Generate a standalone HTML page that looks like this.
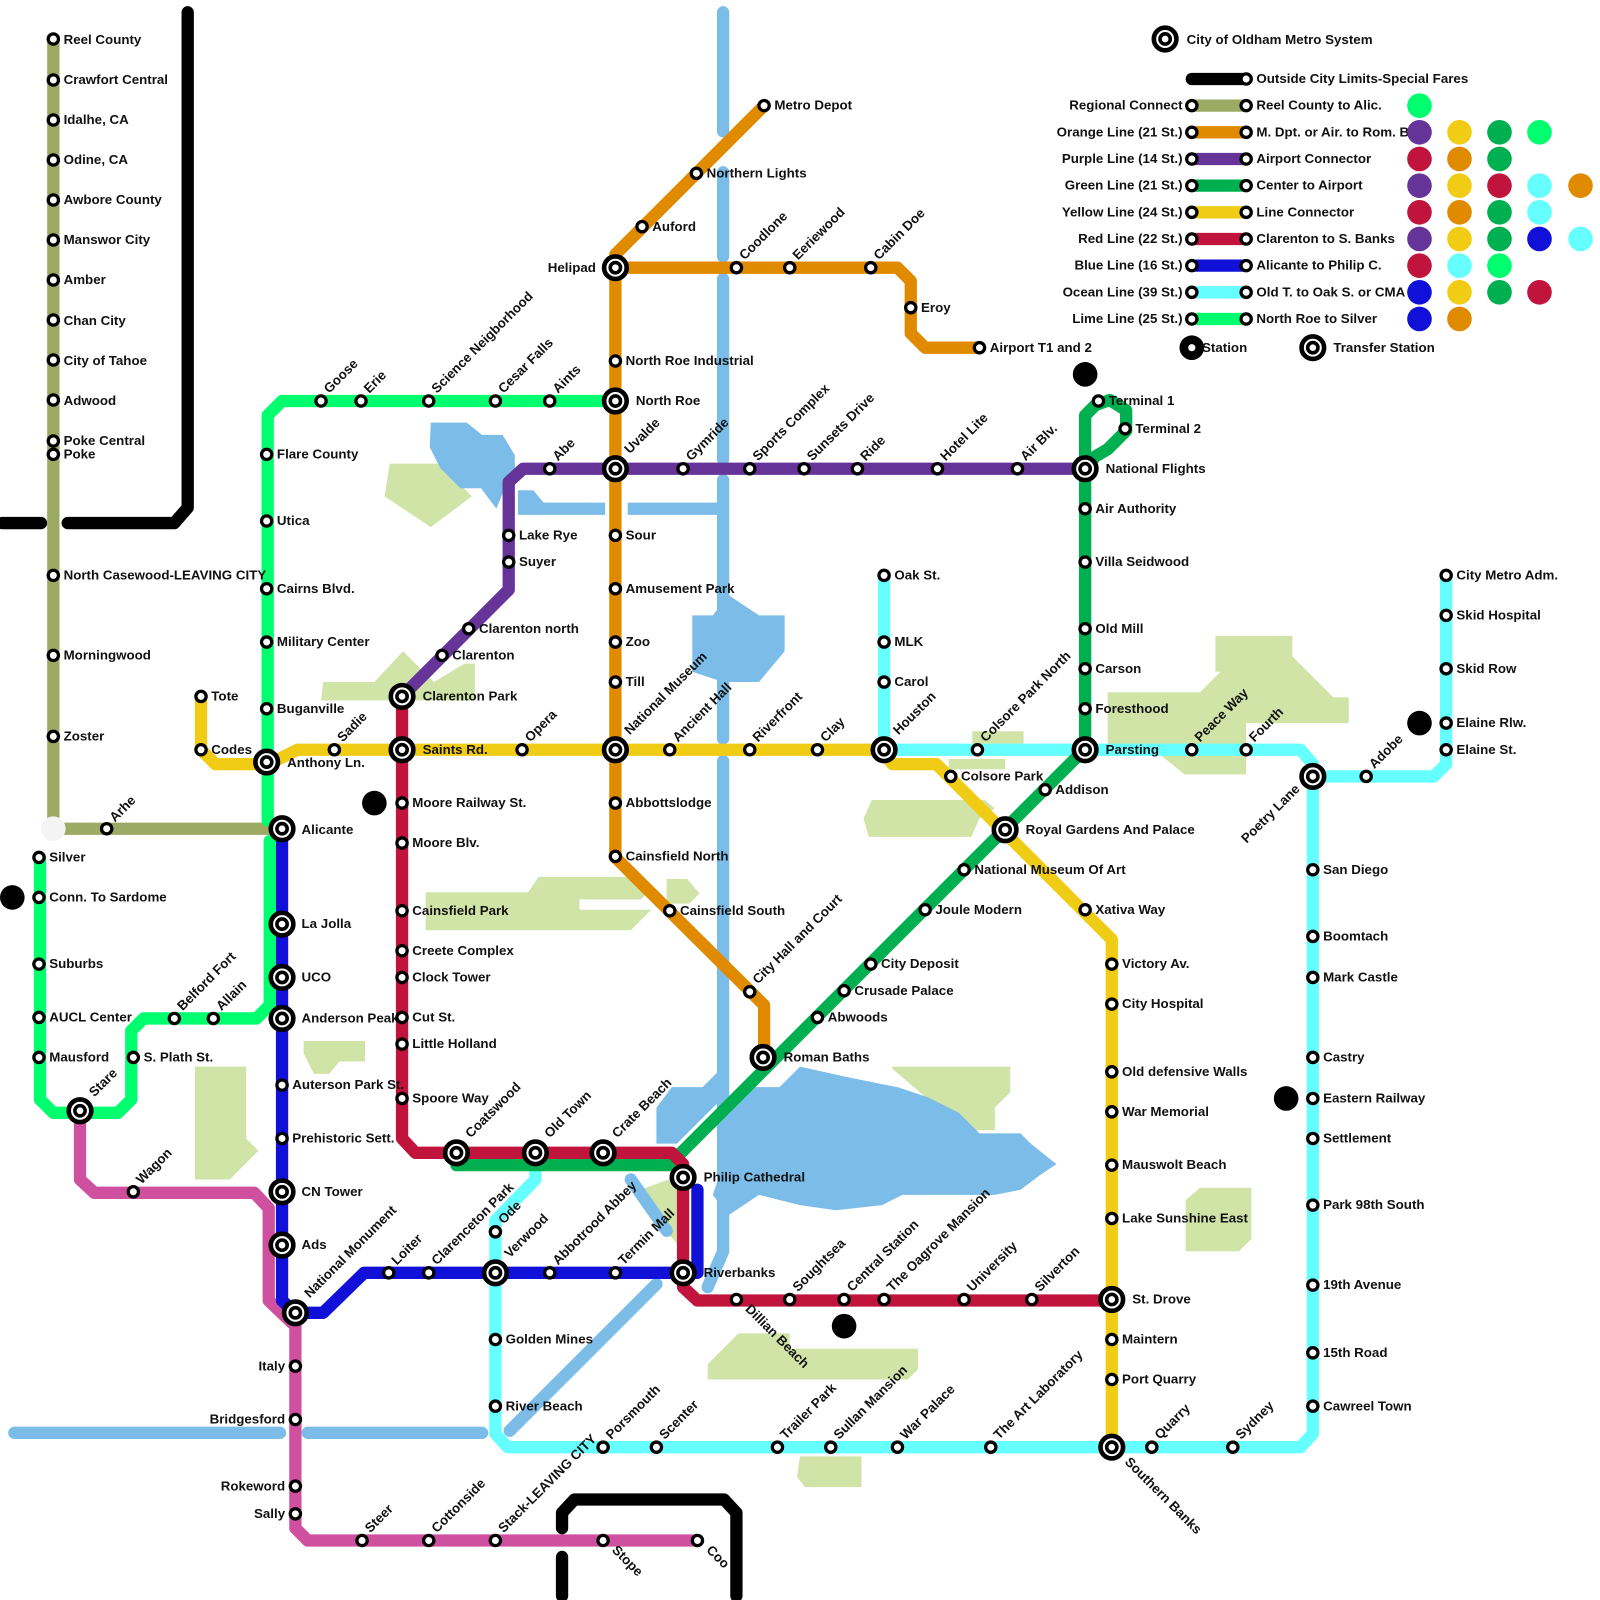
<!DOCTYPE html>
<html><head><meta charset="utf-8"><style>
html,body{margin:0;padding:0;background:#fff}
svg{display:block}
text{font-family:"Liberation Sans",Arial,sans-serif;font-weight:bold;font-size:13px;fill:#111}
.l{fill:none;stroke-width:12;stroke-linejoin:round;stroke-linecap:round}
.w{fill:none;stroke:#7bbde8;stroke-width:12;stroke-linecap:round;stroke-linejoin:round}
.s{fill:#fff;stroke:#000;stroke-width:3.2}
</style></head><body>
<svg width="1600" height="1600" viewBox="0 0 1560 1560" xmlns="http://www.w3.org/2000/svg">
<defs>
<g id="t"><circle r="11" fill="#fff" stroke="#000" stroke-width="4.5"/><circle r="5" fill="#fff" stroke="#000" stroke-width="3.5"/></g>
</defs>
<!-- parks -->
<g fill="#d0e4a8">
<path d="M380 452h50l30 32-40 30-45-30z"/>
<path d="M315 665l50 0 28-30 30 30 30-18h10v36h-150z"/>
<path d="M415 870h100l10-15h100l10 12-10 10h-60v10h70l-20 20h-200z"/>
<path d="M650 857h20l12 14-10 10h-22z"/>
<path d="M296 1015h60v20h-25l-10 12h-15l-10-20z"/>
<path d="M190 1040h50v70l12 12-28 28h-34z"/>
<path d="M850 780h110l10 8-15 10-8 18h-100l-5-18z"/>
<path d="M948 713h50v12h-50zM925 740h55v10h-55z"/>
<path d="M1080 675h90l20-20h-5v-35h75v20l40 40 15 0v25h-100v50h-60l-25-20-50 0z"/>
<path d="M870 1040h115v25l-15 15v22h-65v-30l-35-30z"/>
<path d="M1170 1158h50v50l-12 12h-52v-50z"/>
<path d="M690 1330l30-30h50v15h125v20l-10 10h-195z"/>
<path d="M780 1420h60v30h-55l-8-10z"/>
<path d="M624 1160l28-10 16 20v50l-30-30z"/>
</g>
<!-- water -->
<g fill="#7bbde8">
<path d="M420 412h35l15 12h20l12 20v20l-10 12-8 20-15-20h-20l-20-20-10-20z"/>
<path d="M505 478h15l10 12h60v12h-85z"/>
<path d="M612 490h90v12h-90z"/>
<path d="M675 600h20l15-20 30 20h25v35l-25 30h-35l-30-10z"/>
<path d="M720 1060h40l20-20 45 10 50 10 30 10 30 15 20 20 40 0 10 10 25 20-15 10-20 15-25 5-90 0-20 10-45 5-35-5-40-10-30 20-15-20 10-30 0-60z"/>
<path d="M640 1080l15-20h30l15-15 0 30-40 40-20 0z"/>
</g>
<g>
<path class="w" d="M705 12V128M705 168V250M705 272V448M705 468V720M705 742V1080M705 1090V1220L690 1255M14 1397H273M300 1397H470M640 1252L497 1395M615 1150L650 1200"/>
</g>
<!-- black -->
<path class="l" stroke="#000" d="M183 12V495L170 510H66M2 510H40M548 1490V1475L560 1462H706L718 1475V1556M548 1518V1556"/>
<!-- regional -->
<path class="l" stroke="#9caa64" d="M52 38V808H265"/>
<circle cx="52" cy="808" r="12" fill="#f4f4f4"/>
<!-- lime -->
<path class="l" stroke="#00ff6e" d="M600 391H275L261 405V800M263 820V980L250 993H140L128 1005V1072L115 1085H52L39 1072V836"/>
<!-- pink -->
<path class="l" stroke="#d050a0" d="M78 1083V1150L92 1163H248L262 1178V1268L288 1293V1490L300 1502H680"/>
<!-- ocean -->
<path class="l" stroke="#66ffff" d="M862 561V731H1268L1280 745V1398L1268 1411H495L483 1398V1190L522 1150V1124M1280 757H1398L1410 745V561"/>
<!-- orange -->
<path class="l" stroke="#e08a00" d="M745 103L600 248V836L745 980V1031M600 261H875L888 274V325L902 339H955"/>
<!-- purple -->
<path class="l" stroke="#663399" d="M392 679L496 575V470L510 457H1058"/>
<!-- green -->
<path class="l" stroke="#00b050" d="M1058 457V730L666 1122L652 1136H445M1058 457L1068 445L1080 438L1098 420L1098 400L1082 390L1068 395L1058 405Z"/>
<circle cx="1078" cy="412" r="9" fill="#fff"/>
<!-- yellow -->
<path class="l" stroke="#f0cc14" d="M196 679V731L210 745H262L290 731H860L870 745H913L1058 890L1084 916V1411"/>
<!-- red -->
<path class="l" stroke="#c0143c" d="M392 679V1110L405 1124H655L666 1135V1255L680 1268H1084"/>
<!-- blue -->
<path class="l" stroke="#1010d8" d="M275 808V1268L288 1280H315L355 1241H666M680 1160V1241L666 1241"/>
<!-- black dots -->
<g fill="#000"><circle cx="365" cy="783" r="12"/><circle cx="12" cy="875" r="12"/><circle cx="1058" cy="365" r="12"/><circle cx="1384" cy="705" r="12"/><circle cx="1254" cy="1071" r="12"/><circle cx="823" cy="1293" r="12"/></g>

<!-- stations -->
<g>
<!-- regional -->
<circle class="s" cx="52" cy="38" r="5"/><text x="62" y="43">Reel County</text>
<circle class="s" cx="52" cy="78" r="5"/><text x="62" y="82">Crawfort Central</text>
<circle class="s" cx="52" cy="117" r="5"/><text x="62" y="121">Idalhe, CA</text>
<circle class="s" cx="52" cy="156" r="5"/><text x="62" y="160">Odine, CA</text>
<circle class="s" cx="52" cy="195" r="5"/><text x="62" y="199">Awbore County</text>
<circle class="s" cx="52" cy="234" r="5"/><text x="62" y="238">Manswor City</text>
<circle class="s" cx="52" cy="273" r="5"/><text x="62" y="277">Amber</text>
<circle class="s" cx="52" cy="312" r="5"/><text x="62" y="317">Chan City</text>
<circle class="s" cx="52" cy="351" r="5"/><text x="62" y="356">City of Tahoe</text>
<circle class="s" cx="52" cy="390" r="5"/><text x="62" y="395">Adwood</text>
<circle class="s" cx="52" cy="430" r="5"/><text x="62" y="434">Poke Central</text>
<circle class="s" cx="52" cy="443" r="5"/><text x="62" y="447">Poke</text>
<circle class="s" cx="52" cy="561" r="5"/><text x="62" y="565">North Casewood-LEAVING CITY</text>
<circle class="s" cx="52" cy="639" r="5"/><text x="62" y="643">Morningwood</text>
<circle class="s" cx="52" cy="718" r="5"/><text x="62" y="722">Zoster</text>
<circle class="s" cx="104" cy="808" r="5"/><text transform="translate(112,802) rotate(-45)">Arhe</text>
<!-- lime -->
<circle class="s" cx="38" cy="836" r="5"/><text x="48" y="840">Silver</text>
<circle class="s" cx="38" cy="875" r="5"/><text x="48" y="879">Conn. To Sardome</text>
<circle class="s" cx="38" cy="940" r="5"/><text x="48" y="944">Suburbs</text>
<circle class="s" cx="38" cy="992" r="5"/><text x="48" y="996">AUCL Center</text>
<circle class="s" cx="38" cy="1031" r="5"/><text x="48" y="1035">Mausford</text>
<use href="#t" x="78" y="1083"/><text transform="translate(92,1070) rotate(-45)">Stare</text>
<circle class="s" cx="130" cy="1031" r="5"/><text x="140" y="1035">S. Plath St.</text>
<circle class="s" cx="170" cy="993" r="5"/><text transform="translate(178,986) rotate(-45)">Belford Fort</text>
<circle class="s" cx="208" cy="993" r="5"/><text transform="translate(216,986) rotate(-45)">Allain</text>
<circle class="s" cx="260" cy="443" r="5"/><text x="270" y="447">Flare County</text>
<circle class="s" cx="260" cy="508" r="5"/><text x="270" y="512">Utica</text>
<circle class="s" cx="260" cy="574" r="5"/><text x="270" y="578">Cairns Blvd.</text>
<circle class="s" cx="260" cy="626" r="5"/><text x="270" y="630">Military Center</text>
<circle class="s" cx="260" cy="691" r="5"/><text x="270" y="695">Buganville</text>
<use href="#t" x="260" y="743"/><text x="280" y="748">Anthony Ln.</text>
<circle class="s" cx="313" cy="391" r="5"/><text transform="translate(321,384) rotate(-45)">Goose</text>
<circle class="s" cx="352" cy="391" r="5"/><text transform="translate(360,384) rotate(-45)">Erie</text>
<circle class="s" cx="418" cy="391" r="5"/><text transform="translate(426,384) rotate(-45)">Science Neigborhood</text>
<circle class="s" cx="483" cy="391" r="5"/><text transform="translate(491,384) rotate(-45)">Cesar Falls</text>
<circle class="s" cx="536" cy="391" r="5"/><text transform="translate(544,384) rotate(-45)">Aints</text>
<use href="#t" x="600" y="391"/><text x="620" y="395">North Roe</text>
<!-- blue -->
<use href="#t" x="275" y="808"/><text x="294" y="813">Alicante</text>
<use href="#t" x="275" y="901"/><text x="294" y="905">La Jolla</text>
<use href="#t" x="275" y="953"/><text x="294" y="957">UCO</text>
<use href="#t" x="275" y="993"/><text x="294" y="997">Anderson Peak</text>
<circle class="s" cx="275" cy="1058" r="5"/><text x="285" y="1062">Auterson Park St.</text>
<circle class="s" cx="275" cy="1110" r="5"/><text x="285" y="1114">Prehistoric Sett.</text>
<use href="#t" x="275" y="1162"/><text x="294" y="1166">CN Tower</text>
<use href="#t" x="275" y="1214"/><text x="294" y="1218">Ads</text>
<use href="#t" x="288" y="1280"/><text transform="translate(302,1266) rotate(-45)">National Monument</text>
<circle class="s" cx="379" cy="1241" r="5"/><text transform="translate(387,1234) rotate(-45)">Loiter</text>
<circle class="s" cx="418" cy="1241" r="5"/><text transform="translate(426,1234) rotate(-45)">Clarenceton Park</text>
<use href="#t" x="483" y="1241"/><text transform="translate(497,1227) rotate(-45)">Verwood</text>
<circle class="s" cx="536" cy="1241" r="5"/><text transform="translate(544,1234) rotate(-45)">Abbotrood Abbey</text>
<circle class="s" cx="600" cy="1241" r="5"/><text transform="translate(608,1234) rotate(-45)">Termin Mall</text>
<use href="#t" x="666" y="1241"/><text x="686" y="1245">Riverbanks</text>
<!-- pink -->
<circle class="s" cx="130" cy="1162" r="5"/><text transform="translate(138,1155) rotate(-45)">Wagon</text>
<circle class="s" cx="288" cy="1332" r="5"/><text x="278" y="1336" text-anchor="end">Italy</text>
<circle class="s" cx="288" cy="1384" r="5"/><text x="278" y="1388" text-anchor="end">Bridgesford</text>
<circle class="s" cx="288" cy="1449" r="5"/><text x="278" y="1453" text-anchor="end">Rokeword</text>
<circle class="s" cx="288" cy="1476" r="5"/><text x="278" y="1480" text-anchor="end">Sally</text>
<circle class="s" cx="353" cy="1502" r="5"/><text transform="translate(361,1495) rotate(-45)">Steer</text>
<circle class="s" cx="418" cy="1502" r="5"/><text transform="translate(426,1495) rotate(-45)">Cottonside</text>
<circle class="s" cx="483" cy="1502" r="5"/><text transform="translate(491,1495) rotate(-45)">Stack-LEAVING CITY</text>
<circle class="s" cx="588" cy="1502" r="5"/><text transform="translate(596,1512) rotate(45)">Stope</text>
<circle class="s" cx="680" cy="1502" r="5"/><text transform="translate(688,1512) rotate(45)">Coo</text>
<!-- yellow -->
<circle class="s" cx="196" cy="679" r="5"/><text x="206" y="683">Tote</text>
<circle class="s" cx="196" cy="731" r="5"/><text x="206" y="735">Codes</text>
<circle class="s" cx="326" cy="731" r="5"/><text transform="translate(334,724) rotate(-45)">Sadie</text>
<use href="#t" x="392" y="731"/><text x="412" y="735">Saints Rd.</text>
<circle class="s" cx="509" cy="731" r="5"/><text transform="translate(517,724) rotate(-45)">Opera</text>
<use href="#t" x="600" y="731"/><text transform="translate(614,717) rotate(-45)">National Museum</text>
<circle class="s" cx="653" cy="731" r="5"/><text transform="translate(661,724) rotate(-45)">Ancient Hall</text>
<circle class="s" cx="731" cy="731" r="5"/><text transform="translate(739,724) rotate(-45)">Riverfront</text>
<circle class="s" cx="797" cy="731" r="5"/><text transform="translate(805,724) rotate(-45)">Clay</text>
<use href="#t" x="862" y="731"/><text transform="translate(876,717) rotate(-45)">Houston</text>
<circle class="s" cx="927" cy="757" r="5"/><text x="937" y="761">Colsore Park</text>
<use href="#t" x="980" y="809"/><text x="1000" y="813">Royal Gardens And Palace</text>
<circle class="s" cx="1058" cy="887" r="5"/><text x="1068" y="891">Xativa Way</text>
<circle class="s" cx="1084" cy="940" r="5"/><text x="1094" y="944">Victory Av.</text>
<circle class="s" cx="1084" cy="979" r="5"/><text x="1094" y="983">City Hospital</text>
<circle class="s" cx="1084" cy="1045" r="5"/><text x="1094" y="1049">Old defensive Walls</text>
<circle class="s" cx="1084" cy="1084" r="5"/><text x="1094" y="1088">War Memorial</text>
<circle class="s" cx="1084" cy="1136" r="5"/><text x="1094" y="1140">Mauswolt Beach</text>
<circle class="s" cx="1084" cy="1188" r="5"/><text x="1094" y="1192">Lake Sunshine East</text>
<use href="#t" x="1084" y="1267"/><text x="1104" y="1271">St. Drove</text>
<circle class="s" cx="1084" cy="1306" r="5"/><text x="1094" y="1310">Maintern</text>
<circle class="s" cx="1084" cy="1345" r="5"/><text x="1094" y="1349">Port Quarry</text>
<use href="#t" x="1084" y="1411"/><text transform="translate(1096,1426) rotate(45)">Southern Banks</text>
<!-- orange -->
<circle class="s" cx="745" cy="103" r="5"/><text x="755" y="107">Metro Depot</text>
<circle class="s" cx="679" cy="169" r="5"/><text x="689" y="173">Northern Lights</text>
<circle class="s" cx="626" cy="221" r="5"/><text x="636" y="225">Auford</text>
<use href="#t" x="600" y="261"/><text x="581" y="265" text-anchor="end">Helipad</text>
<circle class="s" cx="718" cy="261" r="5"/><text transform="translate(726,254) rotate(-45)">Coodlone</text>
<circle class="s" cx="770" cy="261" r="5"/><text transform="translate(778,254) rotate(-45)">Eeriewood</text>
<circle class="s" cx="849" cy="261" r="5"/><text transform="translate(857,254) rotate(-45)">Cabin Doe</text>
<circle class="s" cx="888" cy="300" r="5"/><text x="898" y="304">Eroy</text>
<circle class="s" cx="955" cy="339" r="5"/><text x="965" y="343">Airport T1 and 2</text>
<circle class="s" cx="600" cy="352" r="5"/><text x="610" y="356">North Roe Industrial</text>
<circle class="s" cx="600" cy="522" r="5"/><text x="610" y="526">Sour</text>
<circle class="s" cx="600" cy="574" r="5"/><text x="610" y="578">Amusement Park</text>
<circle class="s" cx="600" cy="626" r="5"/><text x="610" y="630">Zoo</text>
<circle class="s" cx="600" cy="665" r="5"/><text x="610" y="669">Till</text>
<circle class="s" cx="600" cy="783" r="5"/><text x="610" y="787">Abbottslodge</text>
<circle class="s" cx="600" cy="835" r="5"/><text x="610" y="839">Cainsfield North</text>
<circle class="s" cx="653" cy="888" r="5"/><text x="663" y="892">Cainsfield South</text>
<circle class="s" cx="731" cy="967" r="5"/><text transform="translate(739,960) rotate(-45)">City Hall and Court</text>
<use href="#t" x="744" y="1031"/><text x="764" y="1035">Roman Baths</text>
<!-- purple -->
<use href="#t" x="392" y="679"/><text x="412" y="683">Clarenton Park</text>
<circle class="s" cx="431" cy="639" r="5"/><text x="441" y="643">Clarenton</text>
<circle class="s" cx="457" cy="613" r="5"/><text x="467" y="617">Clarenton north</text>
<circle class="s" cx="496" cy="548" r="5"/><text x="506" y="552">Suyer</text>
<circle class="s" cx="496" cy="522" r="5"/><text x="506" y="526">Lake Rye</text>
<circle class="s" cx="536" cy="457" r="5"/><text transform="translate(544,450) rotate(-45)">Abe</text>
<use href="#t" x="600" y="457"/><text transform="translate(614,443) rotate(-45)">Uvalde</text>
<circle class="s" cx="666" cy="457" r="5"/><text transform="translate(674,450) rotate(-45)">Gymride</text>
<circle class="s" cx="731" cy="457" r="5"/><text transform="translate(739,450) rotate(-45)">Sports Complex</text>
<circle class="s" cx="784" cy="457" r="5"/><text transform="translate(792,450) rotate(-45)">Sunsets Drive</text>
<circle class="s" cx="836" cy="457" r="5"/><text transform="translate(844,450) rotate(-45)">Ride</text>
<circle class="s" cx="914" cy="457" r="5"/><text transform="translate(922,450) rotate(-45)">Hotel Lite</text>
<circle class="s" cx="992" cy="457" r="5"/><text transform="translate(1000,450) rotate(-45)">Air Blv.</text>
<use href="#t" x="1058" y="457"/><text x="1078" y="461">National Flights</text>
<!-- green -->
<circle class="s" cx="1071" cy="391" r="5"/><text x="1081" y="395">Terminal 1</text>
<circle class="s" cx="1097" cy="418" r="5"/><text x="1107" y="422">Terminal 2</text>
<circle class="s" cx="1058" cy="496" r="5"/><text x="1068" y="500">Air Authority</text>
<circle class="s" cx="1058" cy="548" r="5"/><text x="1068" y="552">Villa Seidwood</text>
<circle class="s" cx="1058" cy="613" r="5"/><text x="1068" y="617">Old Mill</text>
<circle class="s" cx="1058" cy="652" r="5"/><text x="1068" y="656">Carson</text>
<circle class="s" cx="1058" cy="691" r="5"/><text x="1068" y="695">Foresthood</text>
<use href="#t" x="1058" y="731"/><text x="1078" y="735">Parsting</text>
<circle class="s" cx="1019" cy="770" r="5"/><text x="1029" y="774">Addison</text>
<circle class="s" cx="940" cy="848" r="5"/><text x="950" y="852">National Museum Of Art</text>
<circle class="s" cx="902" cy="887" r="5"/><text x="912" y="891">Joule Modern</text>
<circle class="s" cx="849" cy="940" r="5"/><text x="859" y="944">City Deposit</text>
<circle class="s" cx="823" cy="966" r="5"/><text x="833" y="970">Crusade Palace</text>
<circle class="s" cx="797" cy="992" r="5"/><text x="807" y="996">Abwoods</text>
<use href="#t" x="445" y="1124"/><text transform="translate(459,1110) rotate(-45)">Coatswood</text>
<use href="#t" x="522" y="1124"/><text transform="translate(536,1110) rotate(-45)">Old Town</text>
<use href="#t" x="588" y="1124"/><text transform="translate(602,1110) rotate(-45)">Crate Beach</text>
<use href="#t" x="666" y="1148"/><text x="686" y="1152">Philip Cathedral</text>
<!-- red -->
<circle class="s" cx="392" cy="783" r="5"/><text x="402" y="787">Moore Railway St.</text>
<circle class="s" cx="392" cy="822" r="5"/><text x="402" y="826">Moore Blv.</text>
<circle class="s" cx="392" cy="888" r="5"/><text x="402" y="892">Cainsfield Park</text>
<circle class="s" cx="392" cy="927" r="5"/><text x="402" y="931">Creete Complex</text>
<circle class="s" cx="392" cy="953" r="5"/><text x="402" y="957">Clock Tower</text>
<circle class="s" cx="392" cy="992" r="5"/><text x="402" y="996">Cut St.</text>
<circle class="s" cx="392" cy="1018" r="5"/><text x="402" y="1022">Little Holland</text>
<circle class="s" cx="392" cy="1071" r="5"/><text x="402" y="1075">Spoore Way</text>
<circle class="s" cx="718" cy="1267" r="5"/><text transform="translate(726,1277) rotate(45)">Dillian Beach</text>
<circle class="s" cx="770" cy="1267" r="5"/><text transform="translate(778,1260) rotate(-45)">Soughtsea</text>
<circle class="s" cx="823" cy="1267" r="5"/><text transform="translate(831,1260) rotate(-45)">Central Station</text>
<circle class="s" cx="862" cy="1267" r="5"/><text transform="translate(870,1260) rotate(-45)">The Oagrove Mansion</text>
<circle class="s" cx="940" cy="1267" r="5"/><text transform="translate(948,1260) rotate(-45)">University</text>
<circle class="s" cx="1006" cy="1267" r="5"/><text transform="translate(1014,1260) rotate(-45)">Silverton</text>
<!-- ocean -->
<circle class="s" cx="862" cy="561" r="5"/><text x="872" y="565">Oak St.</text>
<circle class="s" cx="862" cy="626" r="5"/><text x="872" y="630">MLK</text>
<circle class="s" cx="862" cy="665" r="5"/><text x="872" y="669">Carol</text>
<circle class="s" cx="953" cy="731" r="5"/><text transform="translate(961,724) rotate(-45)">Colsore Park North</text>
<circle class="s" cx="1162" cy="731" r="5"/><text transform="translate(1170,724) rotate(-45)">Peace Way</text>
<circle class="s" cx="1215" cy="731" r="5"/><text transform="translate(1223,724) rotate(-45)">Fourth</text>
<use href="#t" x="1280" y="757"/><text transform="translate(1268,770) rotate(-45)" text-anchor="end">Poetry Lane</text>
<circle class="s" cx="1332" cy="757" r="5"/><text transform="translate(1340,750) rotate(-45)">Adobe</text>
<circle class="s" cx="1410" cy="561" r="5"/><text x="1420" y="565">City Metro Adm.</text>
<circle class="s" cx="1410" cy="600" r="5"/><text x="1420" y="604">Skid Hospital</text>
<circle class="s" cx="1410" cy="652" r="5"/><text x="1420" y="656">Skid Row</text>
<circle class="s" cx="1410" cy="705" r="5"/><text x="1420" y="709">Elaine Rlw.</text>
<circle class="s" cx="1410" cy="731" r="5"/><text x="1420" y="735">Elaine St.</text>
<circle class="s" cx="1280" cy="848" r="5"/><text x="1290" y="852">San Diego</text>
<circle class="s" cx="1280" cy="913" r="5"/><text x="1290" y="917">Boomtach</text>
<circle class="s" cx="1280" cy="953" r="5"/><text x="1290" y="957">Mark Castle</text>
<circle class="s" cx="1280" cy="1031" r="5"/><text x="1290" y="1035">Castry</text>
<circle class="s" cx="1280" cy="1071" r="5"/><text x="1290" y="1075">Eastern Railway</text>
<circle class="s" cx="1280" cy="1110" r="5"/><text x="1290" y="1114">Settlement</text>
<circle class="s" cx="1280" cy="1175" r="5"/><text x="1290" y="1179">Park 98th South</text>
<circle class="s" cx="1280" cy="1253" r="5"/><text x="1290" y="1257">19th Avenue</text>
<circle class="s" cx="1280" cy="1319" r="5"/><text x="1290" y="1323">15th Road</text>
<circle class="s" cx="1280" cy="1371" r="5"/><text x="1290" y="1375">Cawreel Town</text>
<circle class="s" cx="1202" cy="1411" r="5"/><text transform="translate(1210,1404) rotate(-45)">Sydney</text>
<circle class="s" cx="1123" cy="1411" r="5"/><text transform="translate(1131,1404) rotate(-45)">Quarry</text>
<circle class="s" cx="966" cy="1411" r="5"/><text transform="translate(974,1404) rotate(-45)">The Art Laboratory</text>
<circle class="s" cx="875" cy="1411" r="5"/><text transform="translate(883,1404) rotate(-45)">War Palace</text>
<circle class="s" cx="810" cy="1411" r="5"/><text transform="translate(818,1404) rotate(-45)">Sullan Mansion</text>
<circle class="s" cx="758" cy="1411" r="5"/><text transform="translate(766,1404) rotate(-45)">Trailer Park</text>
<circle class="s" cx="640" cy="1411" r="5"/><text transform="translate(648,1404) rotate(-45)">Scenter</text>
<circle class="s" cx="588" cy="1411" r="5"/><text transform="translate(596,1404) rotate(-45)">Porsmouth</text>
<circle class="s" cx="483" cy="1371" r="5"/><text x="493" y="1375">River Beach</text>
<circle class="s" cx="483" cy="1306" r="5"/><text x="493" y="1310">Golden Mines</text>
<circle class="s" cx="483" cy="1201" r="5"/><text transform="translate(491,1194) rotate(-45)">Ode</text>
</g>

<!-- legend -->
<g>
<use href="#t" x="1136" y="38"/><text x="1157" y="43">City of Oldham Metro System</text>
<line x1="1162" y1="77" x2="1215" y2="77" stroke="#000" stroke-width="12" stroke-linecap="round"/>
<circle class="s" cx="1215" cy="77" r="5"/><text x="1225" y="81">Outside City Limits-Special Fares</text>
<g stroke-width="12">
<line x1="1162" y1="103" x2="1215" y2="103" stroke="#9caa64"/>
<line x1="1162" y1="129" x2="1215" y2="129" stroke="#e08a00"/>
<line x1="1162" y1="155" x2="1215" y2="155" stroke="#663399"/>
<line x1="1162" y1="181" x2="1215" y2="181" stroke="#00b050"/>
<line x1="1162" y1="207" x2="1215" y2="207" stroke="#f0cc14"/>
<line x1="1162" y1="233" x2="1215" y2="233" stroke="#c0143c"/>
<line x1="1162" y1="259" x2="1215" y2="259" stroke="#1010d8"/>
<line x1="1162" y1="285" x2="1215" y2="285" stroke="#66ffff"/>
<line x1="1162" y1="311" x2="1215" y2="311" stroke="#00ff6e"/>
</g>
<g>
<circle class="s" cx="1162" cy="103" r="5"/><circle class="s" cx="1215" cy="103" r="5"/>
<circle class="s" cx="1162" cy="129" r="5"/><circle class="s" cx="1215" cy="129" r="5"/>
<circle class="s" cx="1162" cy="155" r="5"/><circle class="s" cx="1215" cy="155" r="5"/>
<circle class="s" cx="1162" cy="181" r="5"/><circle class="s" cx="1215" cy="181" r="5"/>
<circle class="s" cx="1162" cy="207" r="5"/><circle class="s" cx="1215" cy="207" r="5"/>
<circle class="s" cx="1162" cy="233" r="5"/><circle class="s" cx="1215" cy="233" r="5"/>
<circle class="s" cx="1162" cy="259" r="5"/><circle class="s" cx="1215" cy="259" r="5"/>
<circle class="s" cx="1162" cy="285" r="5"/><circle class="s" cx="1215" cy="285" r="5"/>
<circle class="s" cx="1162" cy="311" r="5"/><circle class="s" cx="1215" cy="311" r="5"/>
</g>
<g text-anchor="end">
<text x="1153" y="107">Regional Connect</text>
<text x="1153" y="133">Orange Line (21 St.)</text>
<text x="1153" y="159">Purple Line (14 St.)</text>
<text x="1153" y="185">Green Line (21 St.)</text>
<text x="1153" y="211">Yellow Line (24 St.)</text>
<text x="1153" y="237">Red Line (22 St.)</text>
<text x="1153" y="263">Blue Line (16 St.)</text>
<text x="1153" y="289">Ocean Line (39 St.)</text>
<text x="1153" y="315">Lime Line (25 St.)</text>
</g>
<text x="1225" y="107">Reel County to Alic.</text>
<text x="1225" y="133">M. Dpt. or Air. to Rom. B.</text>
<text x="1225" y="159">Airport Connector</text>
<text x="1225" y="185">Center to Airport</text>
<text x="1225" y="211">Line Connector</text>
<text x="1225" y="237">Clarenton to S. Banks</text>
<text x="1225" y="263">Alicante to Philip C.</text>
<text x="1225" y="289">Old T. to Oak S. or CMA</text>
<text x="1225" y="315">North Roe to Silver</text>
<g>
<circle cx="1384" cy="103" r="12" fill="#00ff6e"/>
<circle cx="1384" cy="129" r="12" fill="#663399"/><circle cx="1423" cy="129" r="12" fill="#f0cc14"/><circle cx="1462" cy="129" r="12" fill="#00b050"/><circle cx="1501" cy="129" r="12" fill="#00ff6e"/>
<circle cx="1384" cy="155" r="12" fill="#c0143c"/><circle cx="1423" cy="155" r="12" fill="#e08a00"/><circle cx="1462" cy="155" r="12" fill="#00b050"/>
<circle cx="1384" cy="181" r="12" fill="#663399"/><circle cx="1423" cy="181" r="12" fill="#f0cc14"/><circle cx="1462" cy="181" r="12" fill="#c0143c"/><circle cx="1501" cy="181" r="12" fill="#66ffff"/><circle cx="1541" cy="181" r="12" fill="#e08a00"/>
<circle cx="1384" cy="207" r="12" fill="#c0143c"/><circle cx="1423" cy="207" r="12" fill="#e08a00"/><circle cx="1462" cy="207" r="12" fill="#00b050"/><circle cx="1501" cy="207" r="12" fill="#66ffff"/>
<circle cx="1384" cy="233" r="12" fill="#663399"/><circle cx="1423" cy="233" r="12" fill="#f0cc14"/><circle cx="1462" cy="233" r="12" fill="#00b050"/><circle cx="1501" cy="233" r="12" fill="#1010d8"/><circle cx="1541" cy="233" r="12" fill="#66ffff"/>
<circle cx="1384" cy="259" r="12" fill="#c0143c"/><circle cx="1423" cy="259" r="12" fill="#66ffff"/><circle cx="1462" cy="259" r="12" fill="#00ff6e"/>
<circle cx="1384" cy="285" r="12" fill="#1010d8"/><circle cx="1423" cy="285" r="12" fill="#f0cc14"/><circle cx="1462" cy="285" r="12" fill="#00b050"/><circle cx="1501" cy="285" r="12" fill="#c0143c"/>
<circle cx="1384" cy="311" r="12" fill="#1010d8"/><circle cx="1423" cy="311" r="12" fill="#e08a00"/>
</g>
<circle cx="1162" cy="339" r="12" fill="#000"/><circle cx="1162" cy="339" r="3.5" fill="#fff"/><text x="1172" y="343">Station</text>
<use href="#t" x="1280" y="339"/><text x="1300" y="343">Transfer Station</text>
</g>
</svg>
</body></html>
